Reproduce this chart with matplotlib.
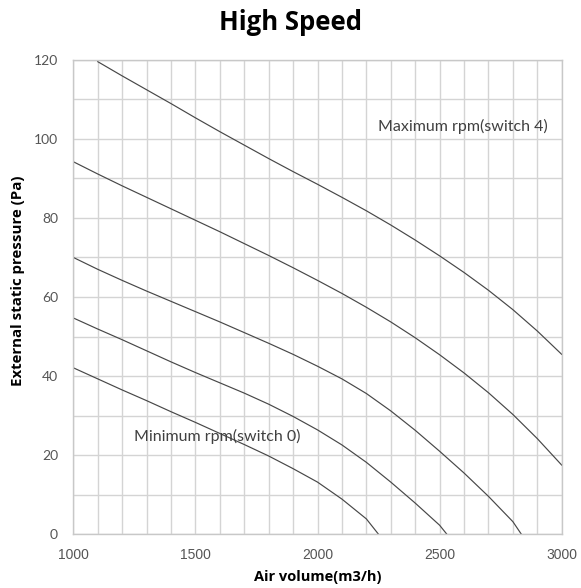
import matplotlib.pyplot as plt
import numpy as np

# fan curves, air volume (m3/h) vs external static pressure (Pa)
x_sw4 = [1100, 1200, 1300, 1400, 1500, 1600, 1700, 1800, 1900, 2000, 2100,
         2200, 2300, 2400, 2500, 2600, 2700, 2800, 2900, 3000]
p_sw4 = [119.5, 115.9, 112.4, 108.9, 105.3, 101.8, 98.4, 95.0, 91.7, 88.5, 85.2,
         81.8, 78.2, 74.4, 70.4, 66.2, 61.7, 56.8, 51.4, 45.5]

x_sw3 = [1000, 1100, 1200, 1300, 1400, 1500, 1600, 1700, 1800, 1900, 2000,
         2100, 2200, 2300, 2400, 2500, 2600, 2700, 2800, 2900, 3000]
p_sw3 = [94.2, 91.1, 88.1, 85.2, 82.3, 79.4, 76.5, 73.5, 70.5, 67.4, 64.2,
         60.9, 57.4, 53.7, 49.7, 45.4, 40.8, 35.8, 30.3, 24.2, 17.5]

x_sw2 = [1000, 1100, 1200, 1300, 1400, 1500, 1600, 1700, 1800, 1900, 2000,
         2100, 2200, 2300, 2400, 2500, 2600, 2700, 2800, 2835]
p_sw2 = [70.0, 67.0, 64.2, 61.5, 58.9, 56.3, 53.7, 51.0, 48.3, 45.5, 42.5,
         39.3, 35.6, 31.2, 26.3, 21.0, 15.5, 9.6, 3.2, 0.0]

x_sw1 = [1000, 1100, 1200, 1300, 1400, 1500, 1600, 1700, 1800, 1900, 2000,
         2100, 2200, 2300, 2400, 2500, 2530]
p_sw1 = [54.7, 51.9, 49.2, 46.4, 43.6, 40.9, 38.3, 35.7, 32.9, 29.8, 26.4,
         22.6, 18.2, 13.2, 7.9, 2.3, 0.0]

x_sw0 = [1000, 1100, 1200, 1300, 1400, 1500, 1600, 1700, 1800, 1900, 2000,
         2100, 2200, 2250]
p_sw0 = [42.1, 39.3, 36.5, 33.8, 31.0, 28.3, 25.5, 22.7, 19.8, 16.6, 13.2,
         8.9, 3.9, 0.0]

curves = [(x_sw4, p_sw4), (x_sw3, p_sw3), (x_sw2, p_sw2), (x_sw1, p_sw1), (x_sw0, p_sw0)]

plt.rcParams['font.family'] = ['Lato', 'DejaVu Sans']
bold_font = ['Open Sans', 'DejaVu Sans']

fig = plt.figure(figsize=(5.81, 5.88), dpi=100)
ax = fig.add_axes([0.1262, 0.0913, 0.8406, 0.8072])

for xs, ps in curves:
    ax.plot(xs, ps, color='#474747', linewidth=0.85)

ax.set_xlim(1000, 3000)
ax.set_ylim(0, 120)
ax.set_xticks(np.arange(1000, 3001, 500))
ax.set_xticks(np.arange(1000, 3001, 100), minor=True)
ax.set_yticks(np.arange(0, 121, 20))
ax.set_yticks(np.arange(0, 121, 10), minor=True)
ax.grid(True, which='both', color='#d4d4d4', linewidth=1.0)
ax.set_axisbelow(True)
ax.tick_params(which='both', length=0, labelsize=10, labelcolor='#555555')
ax.tick_params(axis='x', pad=10)
ax.tick_params(axis='y', pad=11)
for lbl in ax.get_xticklabels():
    lbl.set_family(['Liberation Sans', 'DejaVu Sans'])
for s in ax.spines.values():
    s.set_color('#c8c8c8')
    s.set_linewidth(1.0)

ax.text(2248, 103, 'Maximum rpm(switch 4)', fontsize=11.5, color='#404040', va='center')
ax.text(1247, 24.7, 'Minimum rpm(switch 0)', fontsize=11.5, color='#404040', va='center')

ax.set_xlabel('Air volume(m3/h)', fontsize=10.5, fontweight='bold', family=bold_font)
ax.set_ylabel('External static pressure (Pa)', fontsize=10.8, fontweight='bold', family=bold_font)
ax.xaxis.set_label_coords(0.5, -0.075)
ax.yaxis.set_label_coords(-0.098, 0.534)
fig.text(0.5, 0.949, 'High Speed', ha='center', va='baseline', fontsize=18.5,
         fontweight='bold', family=bold_font)

fig.savefig('out.png', dpi=100)
